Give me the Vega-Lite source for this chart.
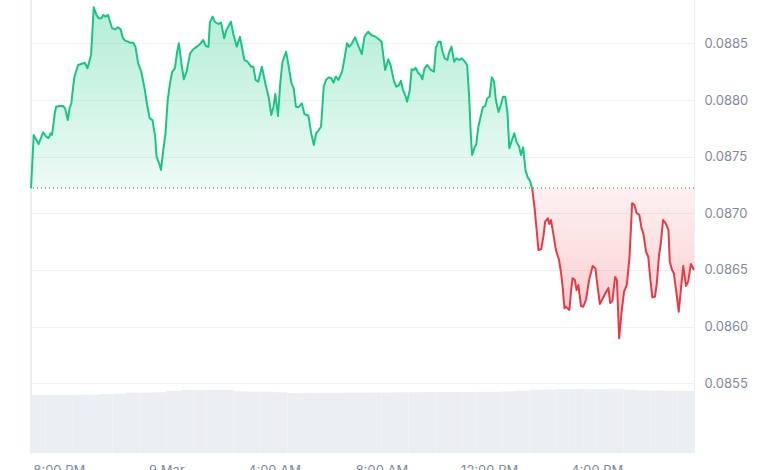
{
"$schema": "https://vega.github.io/schema/vega-lite/v6.json",
"width": 663, "height": 453,
"autosize": {"type": "none"},
"padding": {"left": 31, "top": 0, "right": 86, "bottom": 17},
"background": "white",
"config": {"view": {"stroke": null}, "font": "Inter"},
"datasets": {
"price": [
{"t":"2025-03-08T18:58Z","p":0.087221},{"t":"2025-03-08T19:04Z","p":0.087692},{"t":"2025-03-08T19:10Z","p":0.087648},{"t":"2025-03-08T19:15Z","p":0.087612},{"t":"2025-03-08T19:25Z","p":0.087716},{"t":"2025-03-08T19:32Z","p":0.087677},{"t":"2025-03-08T19:37Z","p":0.087665},{"t":"2025-03-08T19:42Z","p":0.087707},{"t":"2025-03-08T19:45Z","p":0.087692},{"t":"2025-03-08T19:51Z","p":0.087886},
{"t":"2025-03-08T19:54Z","p":0.087942},{"t":"2025-03-08T20:02Z","p":0.087948},{"t":"2025-03-08T20:09Z","p":0.087948},{"t":"2025-03-08T20:14Z","p":0.087928},{"t":"2025-03-08T20:20Z","p":0.087824},{"t":"2025-03-08T20:24Z","p":0.087928},{"t":"2025-03-08T20:28Z","p":0.087972},{"t":"2025-03-08T20:32Z","p":0.088118},{"t":"2025-03-08T20:35Z","p":0.088207},{"t":"2025-03-08T20:43Z","p":0.08831},
{"t":"2025-03-08T20:50Z","p":0.088319},{"t":"2025-03-08T20:58Z","p":0.08833},{"t":"2025-03-08T21:04Z","p":0.088281},{"t":"2025-03-08T21:09Z","p":0.088354},{"t":"2025-03-08T21:12Z","p":0.088398},{"t":"2025-03-08T21:18Z","p":0.08882},{"t":"2025-03-08T21:24Z","p":0.088752},{"t":"2025-03-08T21:29Z","p":0.088722},{"t":"2025-03-08T21:35Z","p":0.088722},{"t":"2025-03-08T21:39Z","p":0.088752},
{"t":"2025-03-08T21:44Z","p":0.088737},{"t":"2025-03-08T21:50Z","p":0.088752},{"t":"2025-03-08T21:53Z","p":0.088707},{"t":"2025-03-08T21:59Z","p":0.088634},{"t":"2025-03-08T22:06Z","p":0.088625},{"t":"2025-03-08T22:12Z","p":0.088643},{"t":"2025-03-08T22:18Z","p":0.088625},{"t":"2025-03-08T22:23Z","p":0.088546},{"t":"2025-03-08T22:28Z","p":0.088525},{"t":"2025-03-08T22:34Z","p":0.088516},
{"t":"2025-03-08T22:40Z","p":0.088507},{"t":"2025-03-08T22:46Z","p":0.088507},{"t":"2025-03-08T22:51Z","p":0.088472},{"t":"2025-03-08T22:57Z","p":0.088325},{"t":"2025-03-08T23:04Z","p":0.088251},{"t":"2025-03-08T23:12Z","p":0.088089},{"t":"2025-03-08T23:17Z","p":0.087957},{"t":"2025-03-08T23:23Z","p":0.087839},{"t":"2025-03-08T23:29Z","p":0.087824},{"t":"2025-03-08T23:35Z","p":0.087677},
{"t":"2025-03-08T23:38Z","p":0.0875},{"t":"2025-03-08T23:44Z","p":0.087442},{"t":"2025-03-08T23:48Z","p":0.087383},{"t":"2025-03-08T23:53Z","p":0.087559},{"t":"2025-03-08T23:58Z","p":0.087707},{"t":"2025-03-09T00:03Z","p":0.088001},{"t":"2025-03-09T00:08Z","p":0.088148},{"t":"2025-03-09T00:13Z","p":0.088251},{"t":"2025-03-09T00:19Z","p":0.088281},{"t":"2025-03-09T00:24Z","p":0.088427},
{"t":"2025-03-09T00:28Z","p":0.088502},{"t":"2025-03-09T00:34Z","p":0.08831},{"t":"2025-03-09T00:39Z","p":0.088184},{"t":"2025-03-09T00:45Z","p":0.088251},{"t":"2025-03-09T00:53Z","p":0.088413},{"t":"2025-03-09T01:00Z","p":0.088449},{"t":"2025-03-09T01:08Z","p":0.088472},{"t":"2025-03-09T01:15Z","p":0.088495},{"t":"2025-03-09T01:22Z","p":0.088531},{"t":"2025-03-09T01:28Z","p":0.088478},
{"t":"2025-03-09T01:34Z","p":0.088472},{"t":"2025-03-09T01:37Z","p":0.088684},{"t":"2025-03-09T01:43Z","p":0.088737},{"t":"2025-03-09T01:48Z","p":0.088692},{"t":"2025-03-09T01:56Z","p":0.088672},{"t":"2025-03-09T02:02Z","p":0.088684},{"t":"2025-03-09T02:09Z","p":0.088546},{"t":"2025-03-09T02:14Z","p":0.088619},{"t":"2025-03-09T02:24Z","p":0.088692},{"t":"2025-03-09T02:29Z","p":0.08859},
{"t":"2025-03-09T02:37Z","p":0.088472},{"t":"2025-03-09T02:44Z","p":0.08856},{"t":"2025-03-09T02:54Z","p":0.088354},{"t":"2025-03-09T03:01Z","p":0.088339},{"t":"2025-03-09T03:09Z","p":0.088295},{"t":"2025-03-09T03:14Z","p":0.088295},{"t":"2025-03-09T03:19Z","p":0.088178},{"t":"2025-03-09T03:25Z","p":0.088163},{"t":"2025-03-09T03:33Z","p":0.088295},{"t":"2025-03-09T03:41Z","p":0.088142},
{"t":"2025-03-09T03:48Z","p":0.08803},{"t":"2025-03-09T03:54Z","p":0.087869},{"t":"2025-03-09T03:59Z","p":0.087942},{"t":"2025-03-09T04:03Z","p":0.088054},{"t":"2025-03-09T04:09Z","p":0.08786},{"t":"2025-03-09T04:14Z","p":0.088148},{"t":"2025-03-09T04:19Z","p":0.088339},{"t":"2025-03-09T04:27Z","p":0.088427},{"t":"2025-03-09T04:33Z","p":0.088295},{"t":"2025-03-09T04:39Z","p":0.088148},
{"t":"2025-03-09T04:44Z","p":0.088104},{"t":"2025-03-09T04:49Z","p":0.087942},{"t":"2025-03-09T04:55Z","p":0.087937},{"t":"2025-03-09T05:02Z","p":0.087972},{"t":"2025-03-09T05:08Z","p":0.087877},{"t":"2025-03-09T05:17Z","p":0.087862},{"t":"2025-03-09T05:23Z","p":0.087707},{"t":"2025-03-09T05:29Z","p":0.087604},{"t":"2025-03-09T05:34Z","p":0.087707},{"t":"2025-03-09T05:40Z","p":0.087736},
{"t":"2025-03-09T05:45Z","p":0.087765},{"t":"2025-03-09T05:51Z","p":0.088118},{"t":"2025-03-09T05:56Z","p":0.088178},{"t":"2025-03-09T06:02Z","p":0.088201},{"t":"2025-03-09T06:08Z","p":0.088193},{"t":"2025-03-09T06:13Z","p":0.088154},{"t":"2025-03-09T06:18Z","p":0.088207},{"t":"2025-03-09T06:24Z","p":0.088178},{"t":"2025-03-09T06:32Z","p":0.088251},{"t":"2025-03-09T06:38Z","p":0.088383},
{"t":"2025-03-09T06:43Z","p":0.088502},{"t":"2025-03-09T06:48Z","p":0.088472},{"t":"2025-03-09T06:54Z","p":0.088502},{"t":"2025-03-09T07:01Z","p":0.088555},{"t":"2025-03-09T07:09Z","p":0.088472},{"t":"2025-03-09T07:16Z","p":0.088407},{"t":"2025-03-09T07:22Z","p":0.08856},{"t":"2025-03-09T07:30Z","p":0.088604},{"t":"2025-03-09T07:37Z","p":0.088575},{"t":"2025-03-09T07:46Z","p":0.08856},
{"t":"2025-03-09T07:54Z","p":0.088537},{"t":"2025-03-09T08:00Z","p":0.088516},{"t":"2025-03-09T08:08Z","p":0.088266},{"t":"2025-03-09T08:15Z","p":0.08836},{"t":"2025-03-09T08:20Z","p":0.08831},{"t":"2025-03-09T08:28Z","p":0.088163},{"t":"2025-03-09T08:33Z","p":0.088118},{"t":"2025-03-09T08:39Z","p":0.088133},{"t":"2025-03-09T08:43Z","p":0.088171},{"t":"2025-03-09T08:48Z","p":0.088089},
{"t":"2025-03-09T08:54Z","p":0.08803},{"t":"2025-03-09T08:57Z","p":0.087986},{"t":"2025-03-09T09:03Z","p":0.088089},{"t":"2025-03-09T09:07Z","p":0.088272},{"t":"2025-03-09T09:12Z","p":0.088266},{"t":"2025-03-09T09:16Z","p":0.088286},{"t":"2025-03-09T09:22Z","p":0.088237},{"t":"2025-03-09T09:27Z","p":0.088222},{"t":"2025-03-09T09:31Z","p":0.088184},{"t":"2025-03-09T09:36Z","p":0.088281},
{"t":"2025-03-09T09:42Z","p":0.08831},{"t":"2025-03-09T09:50Z","p":0.088266},{"t":"2025-03-09T09:57Z","p":0.088251},{"t":"2025-03-09T10:01Z","p":0.088458},{"t":"2025-03-09T10:07Z","p":0.088516},{"t":"2025-03-09T10:12Z","p":0.088516},{"t":"2025-03-09T10:15Z","p":0.088442},{"t":"2025-03-09T10:21Z","p":0.088369},{"t":"2025-03-09T10:27Z","p":0.088354},{"t":"2025-03-09T10:30Z","p":0.088413},
{"t":"2025-03-09T10:36Z","p":0.088472},{"t":"2025-03-09T10:42Z","p":0.088339},{"t":"2025-03-09T10:47Z","p":0.088369},{"t":"2025-03-09T10:53Z","p":0.088354},{"t":"2025-03-09T10:59Z","p":0.088369},{"t":"2025-03-09T11:04Z","p":0.088348},{"t":"2025-03-09T11:11Z","p":0.08831},{"t":"2025-03-09T11:15Z","p":0.08806},{"t":"2025-03-09T11:19Z","p":0.087707},{"t":"2025-03-09T11:22Z","p":0.087515},
{"t":"2025-03-09T11:28Z","p":0.087589},{"t":"2025-03-09T11:31Z","p":0.087604},{"t":"2025-03-09T11:36Z","p":0.087765},{"t":"2025-03-09T11:41Z","p":0.087854},{"t":"2025-03-09T11:46Z","p":0.087937},{"t":"2025-03-09T11:51Z","p":0.087948},{"t":"2025-03-09T11:56Z","p":0.088016},{"t":"2025-03-09T12:01Z","p":0.08803},{"t":"2025-03-09T12:06Z","p":0.088201},{"t":"2025-03-09T12:11Z","p":0.088163},
{"t":"2025-03-09T12:15Z","p":0.088001},{"t":"2025-03-09T12:21Z","p":0.087895},{"t":"2025-03-09T12:26Z","p":0.087957},{"t":"2025-03-09T12:31Z","p":0.08803},{"t":"2025-03-09T12:36Z","p":0.08803},{"t":"2025-03-09T12:41Z","p":0.087884},{"t":"2025-03-09T12:45Z","p":0.087575},{"t":"2025-03-09T12:51Z","p":0.087648},{"t":"2025-03-09T12:56Z","p":0.087707},{"t":"2025-03-09T13:01Z","p":0.087633},
{"t":"2025-03-09T13:07Z","p":0.087589},{"t":"2025-03-09T13:11Z","p":0.087515},{"t":"2025-03-09T13:16Z","p":0.087583},{"t":"2025-03-09T13:21Z","p":0.087383},{"t":"2025-03-09T13:26Z","p":0.087318},{"t":"2025-03-09T13:31Z","p":0.087288},{"t":"2025-03-09T13:36Z","p":0.08722},{"t":"2025-03-09T13:41Z","p":0.087059},{"t":"2025-03-09T13:46Z","p":0.086853},{"t":"2025-03-09T13:50Z","p":0.086676},
{"t":"2025-03-09T13:56Z","p":0.086683},{"t":"2025-03-09T14:01Z","p":0.086794},{"t":"2025-03-09T14:05Z","p":0.086926},{"t":"2025-03-09T14:11Z","p":0.086956},{"t":"2025-03-09T14:14Z","p":0.086906},{"t":"2025-03-09T14:18Z","p":0.086941},{"t":"2025-03-09T14:23Z","p":0.086824},{"t":"2025-03-09T14:29Z","p":0.086676},{"t":"2025-03-09T14:36Z","p":0.086588},{"t":"2025-03-09T14:40Z","p":0.086485},
{"t":"2025-03-09T14:44Z","p":0.086352},{"t":"2025-03-09T14:48Z","p":0.086162},{"t":"2025-03-09T14:51Z","p":0.086176},{"t":"2025-03-09T14:55Z","p":0.086162},{"t":"2025-03-09T14:59Z","p":0.086147},{"t":"2025-03-09T15:03Z","p":0.086323},{"t":"2025-03-09T15:06Z","p":0.086427},{"t":"2025-03-09T15:11Z","p":0.086412},{"t":"2025-03-09T15:15Z","p":0.086323},{"t":"2025-03-09T15:19Z","p":0.086367},
{"t":"2025-03-09T15:25Z","p":0.086182},{"t":"2025-03-09T15:30Z","p":0.086176},{"t":"2025-03-09T15:36Z","p":0.086235},{"t":"2025-03-09T15:43Z","p":0.086412},{"t":"2025-03-09T15:51Z","p":0.086535},{"t":"2025-03-09T15:57Z","p":0.086515},{"t":"2025-03-09T16:02Z","p":0.086352},{"t":"2025-03-09T16:07Z","p":0.0862},{"t":"2025-03-09T16:14Z","p":0.086253},{"t":"2025-03-09T16:21Z","p":0.086306},
{"t":"2025-03-09T16:26Z","p":0.086341},{"t":"2025-03-09T16:30Z","p":0.086209},{"t":"2025-03-09T16:35Z","p":0.086226},{"t":"2025-03-09T16:41Z","p":0.086438},{"t":"2025-03-09T16:45Z","p":0.086412},{"t":"2025-03-09T16:50Z","p":0.085897},{"t":"2025-03-09T16:56Z","p":0.086147},{"t":"2025-03-09T17:01Z","p":0.086308},{"t":"2025-03-09T17:07Z","p":0.086367},{"t":"2025-03-09T17:13Z","p":0.086603},
{"t":"2025-03-09T17:19Z","p":0.087089},{"t":"2025-03-09T17:24Z","p":0.087074},{"t":"2025-03-09T17:29Z","p":0.087001},{"t":"2025-03-09T17:35Z","p":0.086986},{"t":"2025-03-09T17:40Z","p":0.086868},{"t":"2025-03-09T17:44Z","p":0.086824},{"t":"2025-03-09T17:50Z","p":0.086661},{"t":"2025-03-09T17:55Z","p":0.086617},{"t":"2025-03-09T17:59Z","p":0.086441},{"t":"2025-03-09T18:04Z","p":0.086259},
{"t":"2025-03-09T18:10Z","p":0.086264},{"t":"2025-03-09T18:14Z","p":0.086382},{"t":"2025-03-09T18:19Z","p":0.086632},{"t":"2025-03-09T18:23Z","p":0.086736},{"t":"2025-03-09T18:28Z","p":0.086941},{"t":"2025-03-09T18:34Z","p":0.086912},{"t":"2025-03-09T18:40Z","p":0.086853},{"t":"2025-03-09T18:43Z","p":0.086573},{"t":"2025-03-09T18:48Z","p":0.0865},{"t":"2025-03-09T18:52Z","p":0.086471},
{"t":"2025-03-09T18:58Z","p":0.086294},{"t":"2025-03-09T19:03Z","p":0.086132},{"t":"2025-03-09T19:08Z","p":0.086338},{"t":"2025-03-09T19:13Z","p":0.086535},{"t":"2025-03-09T19:19Z","p":0.086359},{"t":"2025-03-09T19:24Z","p":0.086397},{"t":"2025-03-09T19:30Z","p":0.086553},{"t":"2025-03-09T19:37Z","p":0.0865}
],
"vol": [
{"t0":"2025-03-08T18:58Z","t1":"2025-03-08T19:30Z","v":12040000},{"t0":"2025-03-08T19:30Z","t1":"2025-03-08T20:00Z","v":12040000},{"t0":"2025-03-08T20:00Z","t1":"2025-03-08T20:30Z","v":12040000},{"t0":"2025-03-08T20:30Z","t1":"2025-03-08T21:00Z","v":12060000},{"t0":"2025-03-08T21:00Z","t1":"2025-03-08T21:30Z","v":12100000},{"t0":"2025-03-08T21:30Z","t1":"2025-03-08T22:00Z","v":12240000},{"t0":"2025-03-08T22:00Z","t1":"2025-03-08T22:30Z","v":12300000},{"t0":"2025-03-08T22:30Z","t1":"2025-03-08T23:00Z","v":12510000},{"t0":"2025-03-08T23:00Z","t1":"2025-03-08T23:30Z","v":12510000},{"t0":"2025-03-08T23:30Z","t1":"2025-03-09T00:00Z","v":12600000},
{"t0":"2025-03-09T00:00Z","t1":"2025-03-09T00:30Z","v":12870000},{"t0":"2025-03-09T00:30Z","t1":"2025-03-09T01:00Z","v":13070000},{"t0":"2025-03-09T01:00Z","t1":"2025-03-09T01:30Z","v":13070000},{"t0":"2025-03-09T01:30Z","t1":"2025-03-09T02:00Z","v":13070000},{"t0":"2025-03-09T02:00Z","t1":"2025-03-09T02:30Z","v":13050000},{"t0":"2025-03-09T02:30Z","t1":"2025-03-09T03:00Z","v":12800000},{"t0":"2025-03-09T03:00Z","t1":"2025-03-09T03:30Z","v":12720000},{"t0":"2025-03-09T03:30Z","t1":"2025-03-09T04:00Z","v":12720000},{"t0":"2025-03-09T04:00Z","t1":"2025-03-09T04:30Z","v":12600000},{"t0":"2025-03-09T04:30Z","t1":"2025-03-09T05:00Z","v":12450000},
{"t0":"2025-03-09T05:00Z","t1":"2025-03-09T05:30Z","v":12500000},{"t0":"2025-03-09T05:30Z","t1":"2025-03-09T06:00Z","v":12500000},{"t0":"2025-03-09T06:00Z","t1":"2025-03-09T06:30Z","v":12500000},{"t0":"2025-03-09T06:30Z","t1":"2025-03-09T07:00Z","v":12510000},{"t0":"2025-03-09T07:00Z","t1":"2025-03-09T07:30Z","v":12510000},{"t0":"2025-03-09T07:30Z","t1":"2025-03-09T08:00Z","v":12550000},{"t0":"2025-03-09T08:00Z","t1":"2025-03-09T08:30Z","v":12550000},{"t0":"2025-03-09T08:30Z","t1":"2025-03-09T09:00Z","v":12600000},{"t0":"2025-03-09T09:00Z","t1":"2025-03-09T09:30Z","v":12600000},{"t0":"2025-03-09T09:30Z","t1":"2025-03-09T10:00Z","v":12620000},
{"t0":"2025-03-09T10:00Z","t1":"2025-03-09T10:30Z","v":12620000},{"t0":"2025-03-09T10:30Z","t1":"2025-03-09T11:00Z","v":12660000},{"t0":"2025-03-09T11:00Z","t1":"2025-03-09T11:30Z","v":12660000},{"t0":"2025-03-09T11:30Z","t1":"2025-03-09T12:00Z","v":12700000},{"t0":"2025-03-09T12:00Z","t1":"2025-03-09T12:30Z","v":12700000},{"t0":"2025-03-09T12:30Z","t1":"2025-03-09T13:00Z","v":12800000},{"t0":"2025-03-09T13:00Z","t1":"2025-03-09T13:30Z","v":12900000},{"t0":"2025-03-09T13:30Z","t1":"2025-03-09T14:00Z","v":13100000},{"t0":"2025-03-09T14:00Z","t1":"2025-03-09T14:30Z","v":13200000},{"t0":"2025-03-09T14:30Z","t1":"2025-03-09T15:00Z","v":13280000},
{"t0":"2025-03-09T15:00Z","t1":"2025-03-09T15:30Z","v":13280000},{"t0":"2025-03-09T15:30Z","t1":"2025-03-09T16:00Z","v":13280000},{"t0":"2025-03-09T16:00Z","t1":"2025-03-09T16:30Z","v":13280000},{"t0":"2025-03-09T16:30Z","t1":"2025-03-09T17:00Z","v":13250000},{"t0":"2025-03-09T17:00Z","t1":"2025-03-09T17:30Z","v":13100000},{"t0":"2025-03-09T17:30Z","t1":"2025-03-09T18:00Z","v":13000000},{"t0":"2025-03-09T18:00Z","t1":"2025-03-09T18:30Z","v":12950000},{"t0":"2025-03-09T18:30Z","t1":"2025-03-09T19:00Z","v":12900000},{"t0":"2025-03-09T19:00Z","t1":"2025-03-09T19:30Z","v":12900000},{"t0":"2025-03-09T19:30Z","t1":"2025-03-09T19:37Z","v":12900000}
]
},
"layer": [
{
"data": {"name": "vol"},
"mark": {"type": "bar", "color": "#ebeef2", "cornerRadius": 0},
"encoding": {
"x": {"field": "t0", "type": "temporal",
"scale": {"type": "utc", "domain": [{"year":2025,"month":3,"date":8,"hours":18,"minutes":58,"utc":true},{"year":2025,"month":3,"date":9,"hours":19,"minutes":37,"utc":true}]},
"axis": {"title": null, "values": [{"year":2025,"month":3,"date":8,"hours":20,"utc":true},{"year":2025,"month":3,"date":9,"hours":0,"utc":true},{"year":2025,"month":3,"date":9,"hours":4,"utc":true},{"year":2025,"month":3,"date":9,"hours":8,"utc":true},{"year":2025,"month":3,"date":9,"hours":12,"utc":true},{"year":2025,"month":3,"date":9,"hours":16,"utc":true}],
"labelExpr": "utchours(datum.value) == 0 ? utcFormat(datum.value, '%-d %b') : utcFormat(datum.value, '%-I:%M %p')",
"ticks": false, "domain": false, "grid": false, "labelPadding": 11, "labelFontSize": 13, "labelColor": "#808a9d", "labelFont": "Inter"}},
"x2": {"field": "t1"},
"y": {"field": "v", "type": "quantitative", "stack": null, "scale": {"domain": [0, 94000000], "nice": false, "zero": true}, "axis": null},
"y2": {"datum": 0}
}
},
{
"data": {"name": "price"},
"layer": [
{
"transform": [{"filter": "datum.p >= 0.08722"}],
"mark": {"type": "area", "color": {"gradient": "linear", "x1": 0, "y1": 0, "x2": 0, "y2": 1, "stops": [{"offset": 0, "color": "rgba(22,199,132,0.32)"}, {"offset": 1, "color": "rgba(22,199,132,0.08)"}]}},
"encoding": {
"x": {"field": "t", "type": "temporal"},
"y": {"field": "p", "type": "quantitative", "scale": {"domain": [0.084884, 0.088884], "nice": false, "zero": false},
"axis": {"orient": "right", "title": null, "values": [0.0855, 0.086, 0.0865, 0.087, 0.0875, 0.088, 0.0885], "format": ".4f", "ticks": false, "labelPadding": 10, "domain": true, "domainColor": "#eceff3", "grid": true, "gridColor": "#eff2f5", "labelFontSize": 13, "labelColor": "#808a9d", "labelFont": "Inter"}},
"y2": {"datum": 0.08722}
}
},
{
"transform": [{"filter": "datum.p <= 0.08722"}],
"mark": {"type": "area", "color": {"gradient": "linear", "x1": 0, "y1": 0, "x2": 0, "y2": 1, "stops": [{"offset": 0, "color": "rgba(234,57,67,0.07)"}, {"offset": 1, "color": "rgba(234,57,67,0.28)"}]}},
"encoding": {
"x": {"field": "t", "type": "temporal"},
"y": {"field": "p", "type": "quantitative"},
"y2": {"datum": 0.08722}
}
},
{
"mark": {"type": "rule", "color": "#9aa0ab", "strokeDash": [1, 3], "strokeWidth": 1},
"encoding": {"y": {"datum": 0.08722}}
},
{
"mark": {"type": "rule", "color": "#eceff3", "strokeWidth": 1},
"encoding": {"x": {"datum": {"year":2025,"month":3,"date":8,"hours":18,"minutes":58,"utc":true}, "type": "temporal"}}
},
{
"transform": [{"filter": "datum.p >= 0.08722"}],
"mark": {"type": "line", "color": "#16c784", "strokeWidth": 2, "strokeJoin": "round"},
"encoding": {
"x": {"field": "t", "type": "temporal"},
"y": {"field": "p", "type": "quantitative"}
}
},
{
"transform": [{"filter": "datum.p <= 0.08722"}],
"mark": {"type": "line", "color": "#ea3943", "strokeWidth": 2, "strokeJoin": "round"},
"encoding": {
"x": {"field": "t", "type": "temporal"},
"y": {"field": "p", "type": "quantitative"}
}
}
]
}
],
"resolve": {"scale": {"y": "independent"}}
}
